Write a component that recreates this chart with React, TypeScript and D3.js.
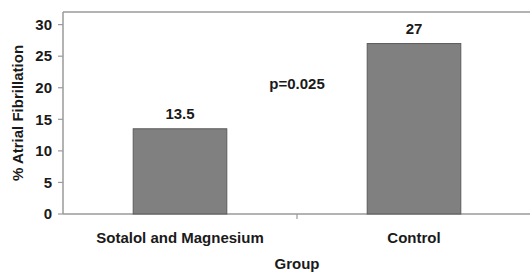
import React from "react";
import * as d3 from "d3";

// values
const groups = ["Sotalol and Magnesium", "Control"];
const afRates = [13.5, 27];
const yTicks = [0, 5, 10, 15, 20, 25, 30];
const pLabel = "p=0.025";

const W = 530;
const H = 272;
const margin = { top: 12, right: -1, bottom: 58, left: 63 };
const font = "'Liberation Sans', Arial, sans-serif";
const fs = 15;

export default function App() {
  const x = d3
    .scaleBand<string>()
    .domain(groups)
    .range([margin.left, W - margin.right])
    .padding(0);
  const y = d3
    .scaleLinear()
    .domain([0, 32])
    .range([H - margin.bottom, margin.top]);

  const barW = x.bandwidth() * 0.4;
  const y0 = y(0);
  const mid = (margin.left + W - margin.right) / 2;

  return (
    <div style={{ position: "fixed", left: 0, top: 0, background: "#fff" }}>
      <svg width={W} height={H} style={{ display: "block" }} fontFamily={font}>
        <rect width={W} height={H} fill="#fff" />
        {/* frame */}
        <line x1={margin.left} x2={W} y1={margin.top} y2={margin.top} stroke="#9a9a9a" strokeWidth={1.5} />
        <line x1={margin.left} x2={margin.left} y1={margin.top} y2={y0} stroke="#9a9a9a" strokeWidth={1.5} />
        <line x1={margin.left} x2={W} y1={y0} y2={y0} stroke="#9a9a9a" strokeWidth={1.5} />
        {/* y ticks */}
        {yTicks.map((t) => (
          <g key={t}>
            <line x1={margin.left - 5} x2={margin.left} y1={y(t)} y2={y(t)} stroke="#9a9a9a" strokeWidth={1.2} />
            <text x={margin.left - 11} y={y(t)} dy="0.35em" textAnchor="end" fontSize={fs} fontWeight="bold" fill="#1a1a1a">
              {t}
            </text>
          </g>
        ))}
        {/* category separator tick */}
        <line x1={x(groups[1])!} x2={x(groups[1])!} y1={y0} y2={y0 + 5} stroke="#9a9a9a" strokeWidth={1.2} />
        {/* bars */}
        {groups.map((g, i) => {
          const cx = x(g)! + x.bandwidth() / 2;
          return (
            <g key={g}>
              <rect
                x={cx - barW / 2}
                y={y(afRates[i])}
                width={barW}
                height={y0 - y(afRates[i])}
                fill="#808080"
                stroke="#5a5a5a"
                strokeWidth={1}
              />
              <text x={cx} y={y(afRates[i]) - 15} dy="0.35em" textAnchor="middle" fontSize={fs} fontWeight="bold" fill="#1a1a1a">
                {afRates[i]}
              </text>
              <text x={cx} y={238} dy="0.35em" textAnchor="middle" fontSize={fs} fontWeight="bold" fill="#1a1a1a">
                {g}
              </text>
            </g>
          );
        })}
        <text x={mid} y={84} dy="0.35em" textAnchor="middle" fontSize={fs} fontWeight="bold" fill="#1a1a1a">
          {pLabel}
        </text>
        <text x={mid} y={264} dy="0.35em" textAnchor="middle" fontSize={fs} fontWeight="bold" fill="#1a1a1a">
          Group
        </text>
        <text
          transform={`translate(18,${(margin.top + y0) / 2}) rotate(-90)`}
          dy="0.35em"
          textAnchor="middle"
          fontSize={fs}
          fontWeight="bold"
          fill="#1a1a1a"
        >
          % Atrial Fibrillation
        </text>
      </svg>
    </div>
  );
}
